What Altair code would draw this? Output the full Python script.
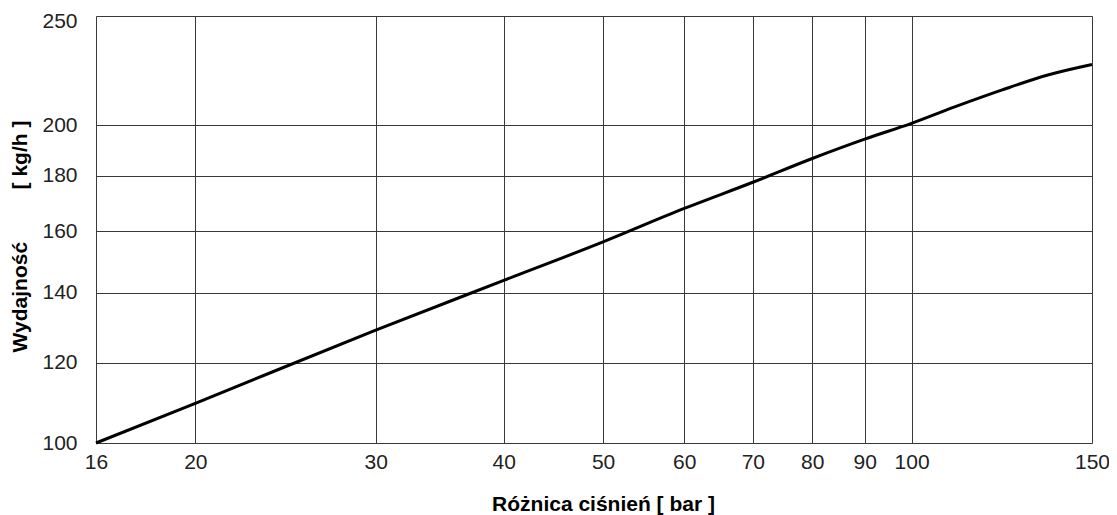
import altair as alt
import pandas as pd

# Pressure difference [bar] and capacity [kg/h]
pressure = [16, 20, 30, 40, 50, 60, 70, 80, 90, 100, 110, 122.4, 136.1, 150]
capacity = [100, 109.5, 129.0, 143.9, 156.4, 168.0, 177.6, 186.7, 194.4, 200.9, 207.7, 215.1, 222.0, 226.7]

x_ticks = [16, 20, 30, 40, 50, 60, 70, 80, 90, 100, 150]
y_ticks = [100, 120, 140, 160, 180, 200, 250]

df = pd.DataFrame({"p": pressure, "q": capacity})

FONT = "Liberation Sans"
GRID = "#3a3a3a"
NBSP = "\u00a0"
y_title = "Wydajność" + NBSP * 9 + "[ kg/h ]"

chart = (
    alt.Chart(df)
    .mark_line(color="black", strokeWidth=3, interpolate="monotone")
    .encode(
        x=alt.X(
            "p:Q",
            scale=alt.Scale(type="log", domain=[16, 150], nice=False),
            axis=alt.Axis(
                values=x_ticks,
                format="d",
                title="Różnica ciśnień [ bar ]",
                titleFont=FONT,
                titleFontSize=21,
                titleFontWeight="bold",
                titleColor="black",
                titleX=507,
                titleY=67,
                titleAlign="center",
                titleBaseline="alphabetic",
                labelFont=FONT,
                labelFontSize=21,
                labelColor="#222222",
                labelPadding=8,
                labelOverlap=False,
                labelFlush=False,
                labelBound=False,
                ticks=False,
                domain=False,
                grid=True,
                gridColor=GRID,
                gridOpacity=1,
                gridWidth=1,
            ),
        ),
        y=alt.Y(
            "q:Q",
            scale=alt.Scale(type="pow", exponent=0.15, domain=[100, 250], nice=False, zero=False),
            axis=alt.Axis(
                values=y_ticks,
                format="d",
                title=y_title,
                titleFont=FONT,
                titleFontSize=21,
                titleFontWeight="bold",
                titleColor="black",
                titleAngle=270,
                titleX=-70,
                titleY=220,
                titleAlign="center",
                titleBaseline="alphabetic",
                labelFont=FONT,
                labelFontSize=21,
                labelColor="#222222",
                labelPadding=19,
                labelOffset={"condition": {"test": "datum.value == 250", "value": 5}, "value": 0},
                labelOverlap=False,
                labelFlush=False,
                labelBound=False,
                ticks=False,
                domain=False,
                grid=True,
                gridColor=GRID,
                gridOpacity=1,
                gridWidth=1,
            ),
        ),
    )
    .properties(
        width=996,
        height=427,
        autosize=alt.AutoSizeParams(type="none"),
        padding={"left": 88, "top": 8, "right": 17, "bottom": 80},
    )
    .configure_view(stroke=GRID, strokeWidth=1)
    .configure(background="white")
)

chart.save("out.html", embed_options={"renderer": "svg", "actions": False})
